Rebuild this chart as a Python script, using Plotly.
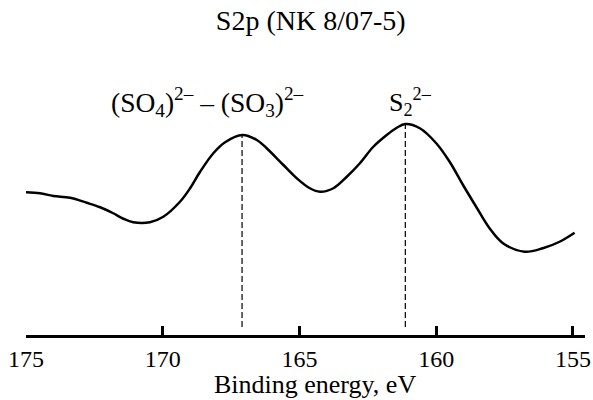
import plotly.graph_objects as go

# Binding energy (eV) and intensity (arb. units)
energy = [175.00, 174.49, 174.00, 173.39, 172.78, 172.29, 171.81, 171.44, 171.08,
          170.47, 169.98, 169.37, 169.00, 168.64, 168.15, 167.72, 167.09, 166.56,
          166.20, 165.59, 165.10, 164.62, 164.25, 163.76, 163.27, 162.79, 162.30,
          161.81, 161.44, 161.13, 160.60, 160.00, 159.51, 159.02, 158.54, 158.05,
          157.56, 156.77, 156.10, 155.49, 154.94]
intensity = [57.1, 56.7, 55.6, 54.9, 52.9, 51.1, 48.7, 46.5, 45.1,
             45.1, 47.3, 53.3, 58.7, 65.2, 72.7, 77.1, 80.0, 78.0,
             74.7, 68.0, 62.7, 58.7, 57.3, 58.7, 63.3, 68.7, 75.3,
             80.0, 82.9, 84.4, 82.7, 76.7, 69.3, 60.0, 51.3, 42.7,
             36.7, 33.3, 34.7, 37.3, 40.9]

peak_positions = [167.1, 161.13]
peak_heights = [80.0, 84.4]
peak_labels = ["(SO<sub>4</sub>)<sup>2–</sup> – (SO<sub>3</sub>)<sup>2–</sup>",
               "S<sub>2</sub><sup>2–</sup>"]
tick_values = [175, 170, 165, 160, 155]

FONT = "Liberation Serif"

fig = go.Figure()
fig.add_trace(go.Scatter(x=energy, y=intensity, mode="lines",
                         line=dict(color="black", width=2.5, shape="spline", smoothing=1.0),
                         hoverinfo="skip", showlegend=False))
for xp, hp in zip(peak_positions, peak_heights):
    fig.add_trace(go.Scatter(x=[xp, xp], y=[3.2, hp], mode="lines",
                             line=dict(color="black", width=1.2, dash="6px,3px"),
                             hoverinfo="skip", showlegend=False))

fig.add_annotation(x=168.36, y=93.2, xref="x", yref="y", text=peak_labels[0],
                   showarrow=False, xanchor="center", yanchor="middle",
                   font=dict(family=FONT, size=27.5, color="black"))
fig.add_annotation(x=161.8, y=93.2, xref="x", yref="y", text=peak_labels[1],
                   showarrow=False, xanchor="left", yanchor="middle",
                   font=dict(family=FONT, size=26, color="black"))
fig.add_annotation(x=0.5165, y=-0.198, xref="paper", yref="paper",
                   text="Binding energy, eV", showarrow=False,
                   xanchor="center", yanchor="middle",
                   font=dict(family=FONT, size=26, color="black"))

fig.update_layout(
    width=593, height=400,
    margin=dict(l=26, r=8, t=85, b=65, pad=0, autoexpand=False),
    paper_bgcolor="white", plot_bgcolor="white",
    title=dict(text="S2p (NK 8/07-5)", x=0.524, y=0.949, xref="container",
               yref="container", xanchor="center", yanchor="middle",
               font=dict(family=FONT, size=28, color="black")),
    xaxis=dict(range=[175, 154.56], tickvals=tick_values, ticks="inside",
               ticklen=9, tickwidth=2.5, tickcolor="black", showline=True,
               linewidth=2.5, linecolor="black", showgrid=False, zeroline=False,
               automargin=False,
               tickfont=dict(family=FONT, size=24, color="black"),
               ticklabelstandoff=0),
    yaxis=dict(range=[0, 100], visible=False, showgrid=False, zeroline=False,
               automargin=False),
    showlegend=False,
)

fig.write_html("out.html")
